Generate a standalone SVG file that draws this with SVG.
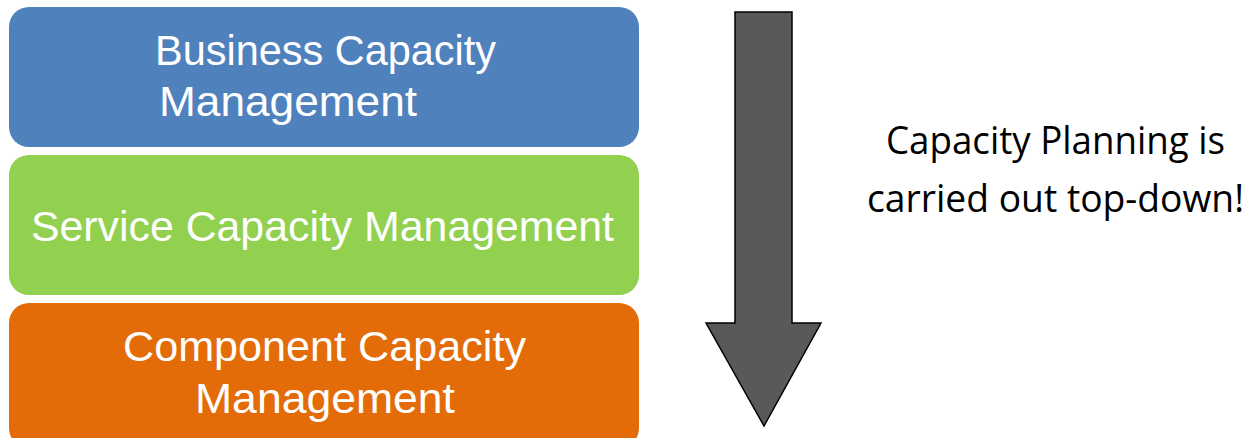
<svg xmlns="http://www.w3.org/2000/svg" width="1256" height="438" viewBox="0 0 1256 438">
  <style>
    .box { stroke: none; }
    .lbl { font-family: "Liberation Sans", Arial, sans-serif; font-size: 42px; fill: #ffffff; }
    .note { font-family: "Open Sans", "Noto Sans", sans-serif; font-size: 38px; fill: #000000; text-anchor: middle; }
  </style>
  <rect width="1256" height="438" fill="#ffffff"/>
  <g id="business">
    <rect class="box" x="9" y="7" width="630" height="140" rx="20" ry="20" fill="#4F81BD"/>
    <text class="lbl" x="155" y="65" textLength="341" lengthAdjust="spacingAndGlyphs">Business Capacity</text>
    <text class="lbl" x="159" y="116" textLength="258" lengthAdjust="spacingAndGlyphs">Management</text>
  </g>
  <g id="service">
    <rect class="box" x="9" y="155" width="630" height="140" rx="20" ry="20" fill="#92D050"/>
    <text class="lbl" x="31" y="241" textLength="583" lengthAdjust="spacingAndGlyphs">Service Capacity Management</text>
  </g>
  <g id="component">
    <rect class="box" x="9" y="303" width="630" height="145" rx="20" ry="20" fill="#E36C09"/>
    <text class="lbl" x="123" y="361" textLength="403" lengthAdjust="spacingAndGlyphs">Component Capacity</text>
    <text class="lbl" x="195" y="413" textLength="260" lengthAdjust="spacingAndGlyphs">Management</text>
  </g>
  <g id="connectors">
    <polygon points="735,12 792,12 792,323 821,323 764,426 706,323 735,323" fill="#595959" stroke="#000000" stroke-width="1.5" stroke-linejoin="miter"/>
  </g>
  <g id="note">
    <text class="note" x="1055.5" y="154" textLength="339" lengthAdjust="spacingAndGlyphs">Capacity Planning is</text>
    <text class="note" x="1055.5" y="212" textLength="377" lengthAdjust="spacingAndGlyphs">carried out top-down!</text>
  </g>
</svg>
